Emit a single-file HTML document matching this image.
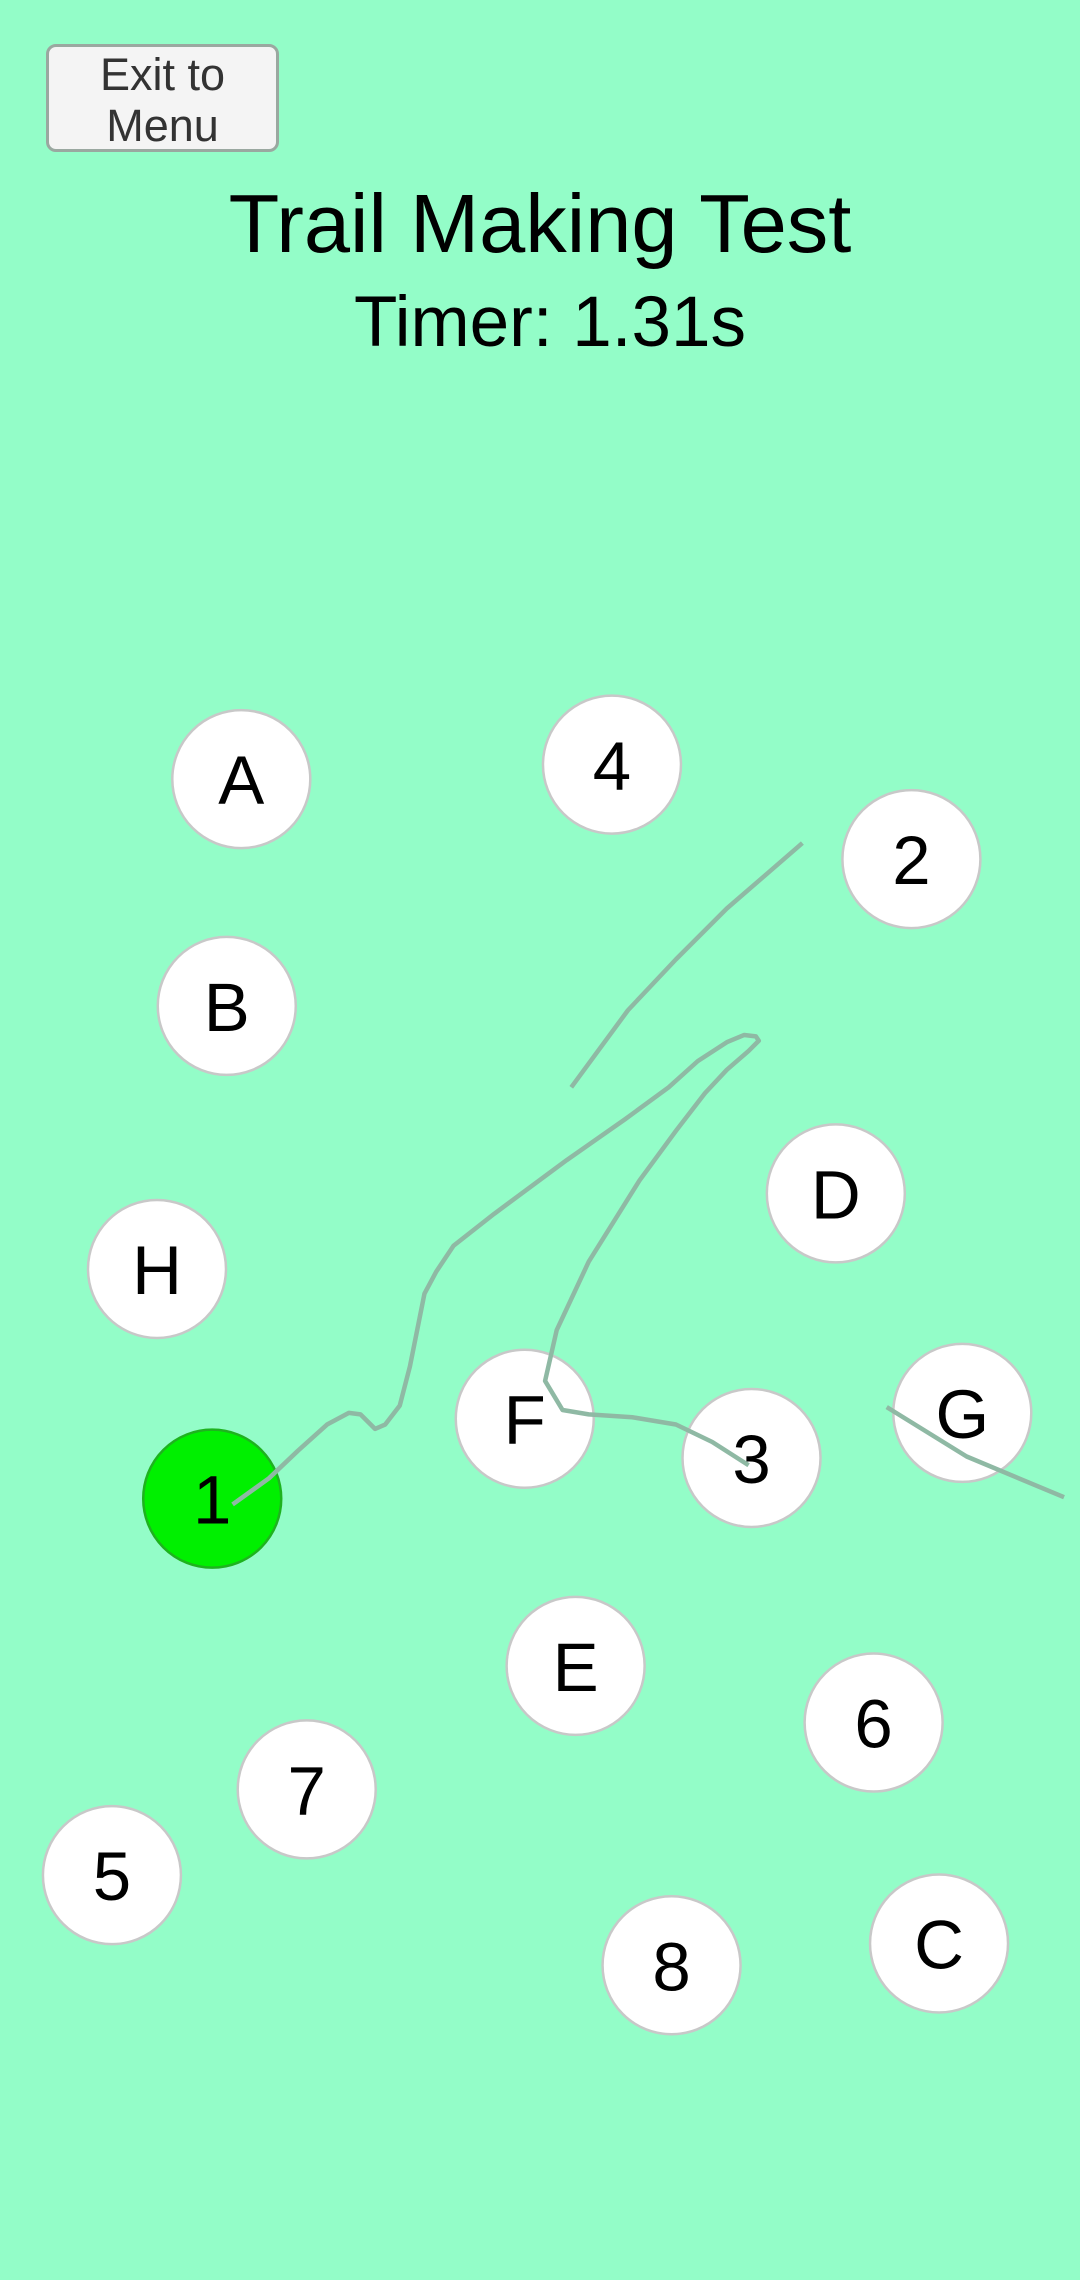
<!DOCTYPE html>
<html><head><meta charset="utf-8"><style>
html,body{margin:0;padding:0;width:1080px;height:2280px;background:#93fdc8;overflow:hidden;font-family:"Liberation Sans",sans-serif}
#exit{position:absolute;left:46px;top:44px;width:233px;height:108px;background:#f4f4f4;border:3px solid #9aa8a0;border-radius:10px;box-sizing:border-box;color:#333;font-size:45px;line-height:51px;text-align:center;padding-top:2px}
#title{position:absolute;left:0;width:1080px;top:174px;text-align:center;font-size:83px;line-height:100px;color:#000}
#timer{position:absolute;left:10px;width:1080px;top:280px;text-align:center;font-size:71px;line-height:86px;color:#000}
svg{position:absolute;left:0;top:0}
</style></head><body>
<div id="exit">Exit to<br>Menu</div>
<div id="title">Trail Making Test</div>
<div id="timer">Timer: 1.31s</div>
<svg id="board" width="1080" height="2280"></svg>
<script>
const S=1.4536;
const labels=["A","4","2","B","D","H","F","3","G","1","E","6","7","5","8","C"];
const cx=[166,421,627,156,575,108,361,517,662,146,396,601,211,77,462,646];
const cy=[536,526,591,692,821,873,976,1003,972,1031,1146,1185,1231,1290,1352,1337];
const done=["1"];
const stroke1x=[160,185,205,225,240,248,255,258,265,275,282,288,292,300,312,340,390,430,460,480,500,512,520,522,515,500,485,465,440,405,383,375,387,405,435,465,490,515];
const stroke1y=[1035,1017,998,980,972,973,980,983,980,967,940,910,890,875,857,835,798,770,748,730,717,712,713,716,723,736,752,778,812,868,915,950,970,973,975,980,992,1008];
const stroke2x=[552,500,465,432,393];
const stroke2y=[580,625,660,695,748];
const stroke3x=[610,665,732];
const stroke3y=[968,1002,1030];
const NS="http://www.w3.org/2000/svg";
const svg=document.getElementById('board');
for(let i=0;i<labels.length;i++){
 const g=document.createElementNS(NS,'g');
 
 
 const c=document.createElementNS(NS,'circle');
 c.setAttribute('cx',cx[i]*S);c.setAttribute('cy',cy[i]*S);c.setAttribute('r',69);
 const on=done.includes(labels[i]);
 c.setAttribute('fill',on?'#00f000':'#fff');
 c.setAttribute('stroke',on?'#1fb21f':'#c8c8c8');c.setAttribute('stroke-width',2.5);
 g.appendChild(c);
 const t=document.createElementNS(NS,'text');
 t.setAttribute('x',cx[i]*S);t.setAttribute('y',cy[i]*S+25);
 t.setAttribute('text-anchor','middle');t.setAttribute('font-size',69);
 t.setAttribute('font-family','Liberation Sans, sans-serif');
 t.textContent=labels[i];
 g.appendChild(t);
 svg.appendChild(g);
}
function line(xs,ys,name){
 const p=document.createElementNS(NS,'polyline');
 p.setAttribute('points',xs.map((x,i)=>(x*S)+','+(ys[i]*S)).join(' '));
 p.setAttribute('fill','none');p.setAttribute('stroke','#8fb9a4');p.setAttribute('stroke-width',4.5);
 p.setAttribute('stroke-linejoin','round');
 
 
 svg.appendChild(p);
}
line(stroke1x,stroke1y,'trail-stroke-1');
line(stroke2x,stroke2y,'trail-stroke-2');
line(stroke3x,stroke3y,'trail-stroke-3');
</script>
</body></html>
